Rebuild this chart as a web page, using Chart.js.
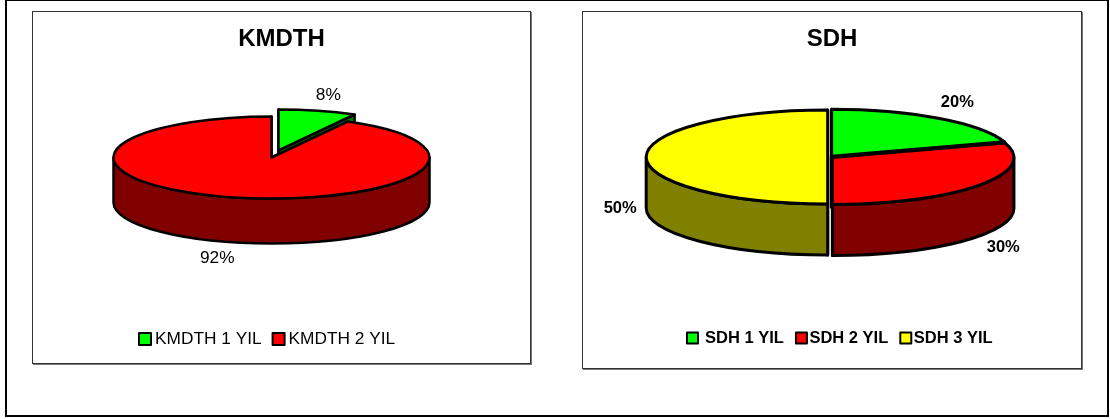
<!DOCTYPE html>
<html>
<head>
<meta charset="utf-8">
<title>KMDTH / SDH</title>
<script src="https://cdn.jsdelivr.net/npm/chart.js@4/dist/chart.umd.min.js"></script>
<style>
  html, body { margin: 0; padding: 0; background: #fff; }
  #page { position: relative; width: 1110px; height: 419px; overflow: hidden; }
  #frame { position: absolute; left: 5px; top: -1px; width: 1100px; height: 414px; border: 2px solid #000; }
  .box { position: absolute; border: 1px solid #333; box-shadow: 1px 1px 0 #777; }
  .box canvas { display: block; }
</style>
</head>
<body>
<div id="page">
  <div id="frame"></div>
  <div class="box" style="left:32px;top:11px;width:497px;height:351px"><canvas id="kmdth" width="497" height="351"></canvas></div>
  <div class="box" style="left:582px;top:11px;width:498px;height:356px"><canvas id="sdh" width="498" height="356"></canvas></div>
</div>
<script>
const kmdthLabels = ["KMDTH 1 YIL", "KMDTH 2 YIL"];
const kmdthValues = [8, 92];
const kmdthExplode = [0.178, 0];
const kmdthColors = ["#00ff00", "#ff0000"];
const kmdthSides = ["#008000", "#800000"];

const sdhLabels = [" SDH 1 YIL", "SDH 2 YIL", "SDH 3 YIL"];
const sdhValues = [20, 30, 50];
const sdhExplode = [0.02, 0.02, 0.01];
const sdhColors = ["#00ff00", "#ff0000", "#ffff00"];
const sdhSides = ["#008000", "#800000", "#808000"];

const FONT = '"Liberation Sans", Arial, sans-serif';

// moves drawing into the flattened pie space of one slice
function enterSlice(ctx, arc, geo, explode) {
    const sx = geo.rx / arc.outerRadius;
    const sy = geo.ry / arc.outerRadius;
    const mid = (arc.startAngle + arc.endAngle) / 2;
    ctx.translate(geo.cx, geo.cy);
    ctx.scale(sx, sy);
    ctx.translate(-arc.x, -arc.y);
    ctx.translate(Math.cos(mid) * explode * arc.outerRadius, Math.sin(mid) * explode * arc.outerRadius);
    return geo.depth / sy;
}

function drawWalls(ctx, arc, geo, explode, color) {
    const R = arc.outerRadius;
    const edges = [arc.startAngle, arc.endAngle];
    ctx.fillStyle = color;
    ctx.strokeStyle = "#000";
    ctx.lineWidth = geo.line;
    ctx.lineJoin = "round";

    edges.forEach((angle) => {
        ctx.save();
        const d = enterSlice(ctx, arc, geo, explode);
        ctx.beginPath();
        ctx.moveTo(arc.x, arc.y);
        ctx.lineTo(arc.x + Math.cos(angle) * R, arc.y + Math.sin(angle) * R);
        ctx.lineTo(arc.x + Math.cos(angle) * R, arc.y + Math.sin(angle) * R + d);
        ctx.lineTo(arc.x, arc.y + d);
        ctx.closePath();
        ctx.restore();
        ctx.fill();
        ctx.stroke();
    });

    // only the part of the rim that faces the viewer, angles 0..PI
    const a = Math.max(arc.startAngle, 0);
    const b = Math.min(arc.endAngle, Math.PI);
    if (b > a) {
        ctx.save();
        const d = enterSlice(ctx, arc, geo, explode);
        ctx.beginPath();
        ctx.arc(arc.x, arc.y, R, a, b, false);
        ctx.arc(arc.x, arc.y + d, R, b, a, true);
        ctx.closePath();
        ctx.restore();
        ctx.fill();
        ctx.stroke();
    }
}

function drawTop(ctx, arc, geo, explode) {
    ctx.save();
    enterSlice(ctx, arc, geo, explode);
    arc.draw(ctx);
    ctx.restore();

    ctx.save();
    enterSlice(ctx, arc, geo, explode);
    ctx.beginPath();
    ctx.moveTo(arc.x, arc.y);
    ctx.arc(arc.x, arc.y, arc.outerRadius, arc.startAngle, arc.endAngle, false);
    ctx.closePath();
    ctx.restore();
    ctx.strokeStyle = "#000";
    ctx.lineWidth = geo.line;
    ctx.lineJoin = "round";
    ctx.stroke();
}

const tiltedPie = {
    id: "tiltedPie",
    beforeDatasetDraw(chart, args, opts) {
        const ctx = chart.ctx;
        const arcs = chart.getDatasetMeta(0).data;
        const order = arcs.map((arc, i) => i).sort((p, q) => {
            const mp = (arcs[p].startAngle + arcs[p].endAngle) / 2;
            const mq = (arcs[q].startAngle + arcs[q].endAngle) / 2;
            return Math.sin(mp) - Math.sin(mq);
        });
        order.forEach((i) => {
            drawWalls(ctx, arcs[i], opts, opts.explode[i], opts.sides[i]);
            drawTop(ctx, arcs[i], opts, opts.explode[i]);
        });
        return false;
    },
    afterDatasetsDraw(chart, args, opts) {
        const ctx = chart.ctx;
        const arcs = chart.getDatasetMeta(0).data;
        const values = chart.data.datasets[0].data;
        ctx.save();
        ctx.fillStyle = "#000";
        ctx.textAlign = "center";
        ctx.textBaseline = "middle";
        ctx.font = opts.textFont;
        arcs.forEach((arc, i) => {
            const mid = (arc.startAngle + arc.endAngle) / 2;
            const e = 1 + opts.explode[i];
            const x = opts.cx + Math.cos(mid) * opts.rx * e + opts.nudge[i][0];
            const y = opts.cy + Math.sin(mid) * opts.ry * e + opts.nudge[i][1];
            ctx.fillText(`${values[i]}%`, x, y);
        });

        // legend row: tighter box/text spacing than the stock legend allows
        let x = opts.legendX;
        ctx.textAlign = "left";
        chart.data.labels.forEach((label, i) => {
            ctx.fillStyle = chart.data.datasets[0].backgroundColor[i];
            ctx.strokeStyle = "#000";
            ctx.lineWidth = 2;
            ctx.fillRect(x + 1, opts.legendY - opts.legendBox / 2, opts.legendBox, opts.legendBox);
            ctx.strokeRect(x + 1, opts.legendY - opts.legendBox / 2, opts.legendBox, opts.legendBox);
            ctx.fillStyle = "#000";
            ctx.fillText(label, x + opts.legendText, opts.legendY);
            x += opts.legendText + ctx.measureText(label).width + opts.legendGap;
        });
        ctx.restore();
    },
};

function makePie(id, labels, values, colors, title, settings) {
    return new Chart(document.getElementById(id), {
        type: "pie",
        data: {
            labels: labels,
            datasets: [{ data: values, backgroundColor: colors, borderWidth: 0 }],
        },
        options: {
            responsive: false,
            animation: false,
            layout: { padding: 10 },
            plugins: {
                legend: { display: false },
                tooltip: { enabled: false },
                title: {
                    display: true,
                    text: title,
                    color: "#000",
                    font: { family: FONT, size: 24, weight: "bold" },
                    padding: { top: 3, bottom: 4 },
                },
                tiltedPie: settings,
            },
        },
        plugins: [tiltedPie],
    });
}

makePie("kmdth", kmdthLabels, kmdthValues, kmdthColors, "KMDTH", {
    cx: 238.5, cy: 145.5, rx: 158, ry: 41, depth: 45, line: 2.5,
    explode: kmdthExplode,
    sides: kmdthSides,
    nudge: [[10.5, -15], [-15, 61]],
    textFont: `17.3px ${FONT}`,
    legendX: 105, legendY: 327, legendGap: 10, legendBox: 12, legendText: 17,
});

makePie("sdh", sdhLabels, sdhValues, sdhColors, "SDH", {
    cx: 246.5, cy: 145, rx: 181.5, ry: 47, depth: 51, line: 3,
    explode: sdhExplode,
    sides: sdhSides,
    nudge: [[19, -16], [24, 62], [-26, 51]],
    textFont: `bold 16.5px ${FONT}`,
    legendX: 103, legendY: 326, legendGap: 11, legendBox: 11, legendText: 14.5,
});
</script>
</body>
</html>
